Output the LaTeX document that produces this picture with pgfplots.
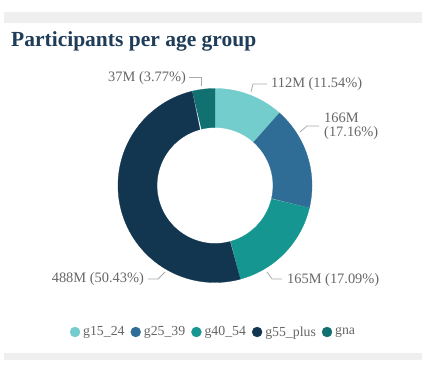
\documentclass[border=0pt]{standalone}
\usepackage{pgfplots}
\pgfplotsset{compat=1.18}
\usepackage{fontspec}
\setmainfont{Liberation Serif}
\definecolor{cA}{HTML}{72CDCC}
\definecolor{cB}{HTML}{2F6C96}
\definecolor{cC}{HTML}{169690}
\definecolor{cD}{HTML}{123650}
\definecolor{cE}{HTML}{117070}
\definecolor{titleblue}{HTML}{1F3C58}
\definecolor{txtgray}{HTML}{666666}
\definecolor{linegray}{HTML}{AAAAAA}
\definecolor{bargray}{HTML}{EFEFEF}
% shares in percent
\def\pA{11.54}\def\pB{17.16}\def\pC{17.09}\def\pD{50.43}\def\pE{3.77}
\pgfmathsetmacro{\aA}{90}
\pgfmathsetmacro{\aB}{\aA-\pA*3.6}
\pgfmathsetmacro{\aC}{\aB-\pB*3.6}
\pgfmathsetmacro{\aD}{\aC-\pC*3.6}
\pgfmathsetmacro{\aE}{\aD-\pD*3.6}
\pgfmathsetmacro{\aF}{-270}
\newcommand\slice[3]{%
  \addplot[fill=#1, draw=#1, line width=0.3pt, domain=0:2, samples=241, variable=\t]
   ({215+ifthenelse(\t<1.001,97,58)*cos(ifthenelse(\t<1.001,(#2)+((#3)-(#2))*\t,(#3)+((#2)-(#3))*(\t-1)))},
    {182.5+ifthenelse(\t<1.001,97,58)*sin(ifthenelse(\t<1.001,(#2)+((#3)-(#2))*\t,(#3)+((#2)-(#3))*(\t-1)))});
}
\begin{document}
\begin{tikzpicture}
\begin{axis}[
  width=428pt, height=368pt, scale only axis,
  xmin=0, xmax=428, ymin=0, ymax=368,
  hide axis, clip=false,
  axis background/.style={fill=white},
  legend image code/.code={\fill[#1] (0pt,0pt) circle (5pt);},
  legend style={at={(213/428,36/368)}, anchor=center, draw=none, fill=none,
    font=\fontsize{13.8}{16}\selectfont, text=txtgray,
    /tikz/every odd column/.style={column sep=2pt},
    /tikz/every even column/.style={column sep=5pt},
    nodes={inner xsep=1pt, inner ysep=0pt}},
  legend columns=-1,
]
\fill[bargray] (axis cs:4,345) rectangle (axis cs:422,356);
\fill[bargray] (axis cs:4,8) rectangle (axis cs:422,15);

\slice{cA}{\aA}{\aB}
\addlegendentry{g15\_24}
\slice{cB}{\aB}{\aC}
\addlegendentry{g25\_39}
\slice{cC}{\aC}{\aD}
\addlegendentry{g40\_54}
\slice{cD}{\aD}{\aE}
\addlegendentry{g55\_plus}
\slice{cE}{\aE}{\aF}
\addlegendentry{gna}

\node[anchor=base west, inner sep=0pt, font=\fontsize{21.5}{24}\selectfont\bfseries, text=titleblue]
  at (axis cs:11,322) {Participants per age group};

\begin{scope}[font=\fontsize{14.4}{16}\selectfont, text=txtgray]
\draw[linegray, line width=0.8pt] (axis cs:189,291) -- (axis cs:201,291) -- (axis cs:201,282);
\node[anchor=east, inner sep=0pt] at (axis cs:186,290) {37M (3.77\%)};
\draw[linegray, line width=0.8pt] (axis cs:251,276) -- (axis cs:253,284) -- (axis cs:267,284);
\node[anchor=west, inner sep=0pt] at (axis cs:271,284) {112M (11.54\%)};
\draw[linegray, line width=0.8pt] (axis cs:300,236) -- (axis cs:307,242) -- (axis cs:319,242);
\node[anchor=west, inner sep=0pt] at (axis cs:324,250) {166M};
\node[anchor=west, inner sep=0pt] at (axis cs:324,235) {(17.16\%)};
\draw[linegray, line width=0.8pt] (axis cs:267,96) -- (axis cs:272,89) -- (axis cs:282,89);
\node[anchor=west, inner sep=0pt] at (axis cs:287,88) {165M (17.09\%)};
\draw[linegray, line width=0.8pt] (axis cs:148,89) -- (axis cs:158,89) -- (axis cs:165,96);
\node[anchor=east, inner sep=0pt] at (axis cs:144,89) {488M (50.43\%)};
\end{scope}
\end{axis}
\end{tikzpicture}
\end{document}
